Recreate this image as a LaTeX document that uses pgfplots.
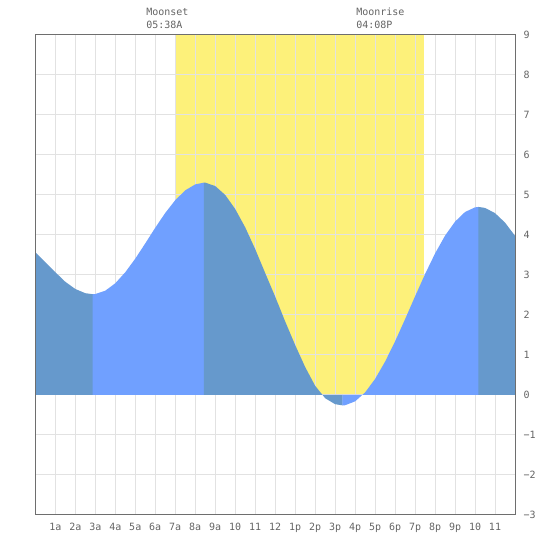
\documentclass[border=0pt]{standalone}
\usepackage{pgfplots}
\pgfplotsset{compat=1.18}
\usepackage{fontspec}
\setmainfont{DejaVu Sans Mono}
\setmonofont{DejaVu Sans Mono}
\definecolor{sun}{RGB}{253,241,122}
\definecolor{fall}{RGB}{102,153,204}
\definecolor{rise}{RGB}{112,160,255}
\definecolor{gridc}{RGB}{226,226,226}
\definecolor{bordc}{RGB}{110,110,110}
\definecolor{txt}{RGB}{100,100,100}
\pgfplotsset{
  layers/mylayers/.define layer set={
    axis background,axis grid,pre main,main,axis ticks,axis lines,axis tick labels,axis descriptions,axis foreground
  }{
    grid style={/pgfplots/on layer=axis grid},
    tick style={/pgfplots/on layer=axis ticks},
    axis line style={/pgfplots/on layer=axis lines},
    label style={/pgfplots/on layer=axis descriptions},
    legend style={/pgfplots/on layer=axis descriptions},
    title style={/pgfplots/on layer=axis descriptions},
    ticklabel style={/pgfplots/on layer=axis tick labels},
  },
}
\begin{document}
\begin{tikzpicture}
\begin{axis}[
  set layers=mylayers,
  at={(35.33bp,35bp)}, anchor=south west,
  scale only axis, width=479.67bp, height=480bp,
  xmin=0, xmax=24, ymin=-3, ymax=9,
  xtick={1,2,3,4,5,6,7,8,9,10,11,12,13,14,15,16,17,18,19,20,21,22,23},
  xticklabels={1a,2a,3a,4a,5a,6a,7a,8a,9a,10,11,12,1p,2p,3p,4p,5p,6p,7p,8p,9p,10,11},
  ytick={-3,-2,-1,0,1,2,3,4,5,6,7,8,9},
  yticklabels={−3,−2,−1,0,1,2,3,4,5,6,7,8,9},
  yticklabel pos=right,
  major tick length=0pt,
  grid=major,
  major grid style={draw=gridc, line width=1bp},
  axis line style={draw=bordc, line width=1bp},
  tick label style={font=\fontsize{10bp}{12bp}\selectfont, text=txt, inner sep=0pt},
  xticklabel style={anchor=base, yshift=-15.7bp},
  yticklabel style={anchor=west, xshift=8.3bp},
  clip=false,
]
% daylight
\addplot[on layer=axis background, fill=sun, draw=none] coordinates {(6.98,0) (6.98,9) (19.43,9) (19.43,0)} -- cycle;
% falling
\addplot[fill=fall, draw=none] coordinates {(0,0) (0,3.57) (0.5,3.32) (1,3.07) (1.5,2.83) (2,2.65) (2.5,2.545) (2.87,2.52) (2.89,2.52) (2.89,0)} -- cycle;
% rising
\addplot[fill=rise, draw=none] coordinates {(2.87,0) (2.87,2.52) (3,2.524) (3.5,2.607) (4,2.793) (4.5,3.068) (5,3.408) (5.5,3.789) (6,4.181) (6.5,4.551) (7,4.870) (7.5,5.116) (8,5.265) (8.45,5.31) (8.45,0)} -- cycle;
% falling
\addplot[fill=fall, draw=none] coordinates {(8.43,0) (8.43,5.31) (8.45,5.31) (8.5,5.309) (9,5.224) (9.5,5.001) (10,4.650) (10.5,4.192) (11,3.648) (11.5,3.05) (12,2.46) (12.5,1.84) (13,1.25) (13.5,0.70) (14,0.23) (14.5,-0.08) (15,-0.23) (15.38,-0.26) (15.38,0)} -- cycle;
% rising
\addplot[fill=rise, draw=none] coordinates {(15.36,0) (15.36,-0.26) (15.38,-0.26) (15.5,-0.256) (16,-0.159) (16.5,0.064) (17,0.401) (17.5,0.834) (18,1.341) (18.5,1.895) (19,2.466) (19.5,3.023) (20,3.538) (20.5,3.983) (21,4.334) (21.5,4.575) (22,4.691) (22.19,4.70) (22.19,0)} -- cycle;
% falling
\addplot[fill=fall, draw=none] coordinates {(22.17,0) (22.17,4.70) (22.19,4.70) (22.5,4.677) (23,4.547) (23.5,4.31) (24,3.98) (24,0)} -- cycle;
% moon labels
\node[anchor=base west, inner sep=0pt, text=txt, font=\fontsize{10bp}{12bp}\selectfont] at (axis cs:5.54,9) [yshift=19bp] {Moonset};
\node[anchor=base west, inner sep=0pt, text=txt, font=\fontsize{10bp}{12bp}\selectfont] at (axis cs:5.54,9) [yshift=6.3bp] {05:38A};
\node[anchor=base west, inner sep=0pt, text=txt, font=\fontsize{10bp}{12bp}\selectfont] at (axis cs:16.05,9) [yshift=19bp] {Moonrise};
\node[anchor=base west, inner sep=0pt, text=txt, font=\fontsize{10bp}{12bp}\selectfont] at (axis cs:16.05,9) [yshift=6.3bp] {04:08P};
\end{axis}
\path (0,0) rectangle (550bp,550bp);
\end{tikzpicture}
\end{document}
